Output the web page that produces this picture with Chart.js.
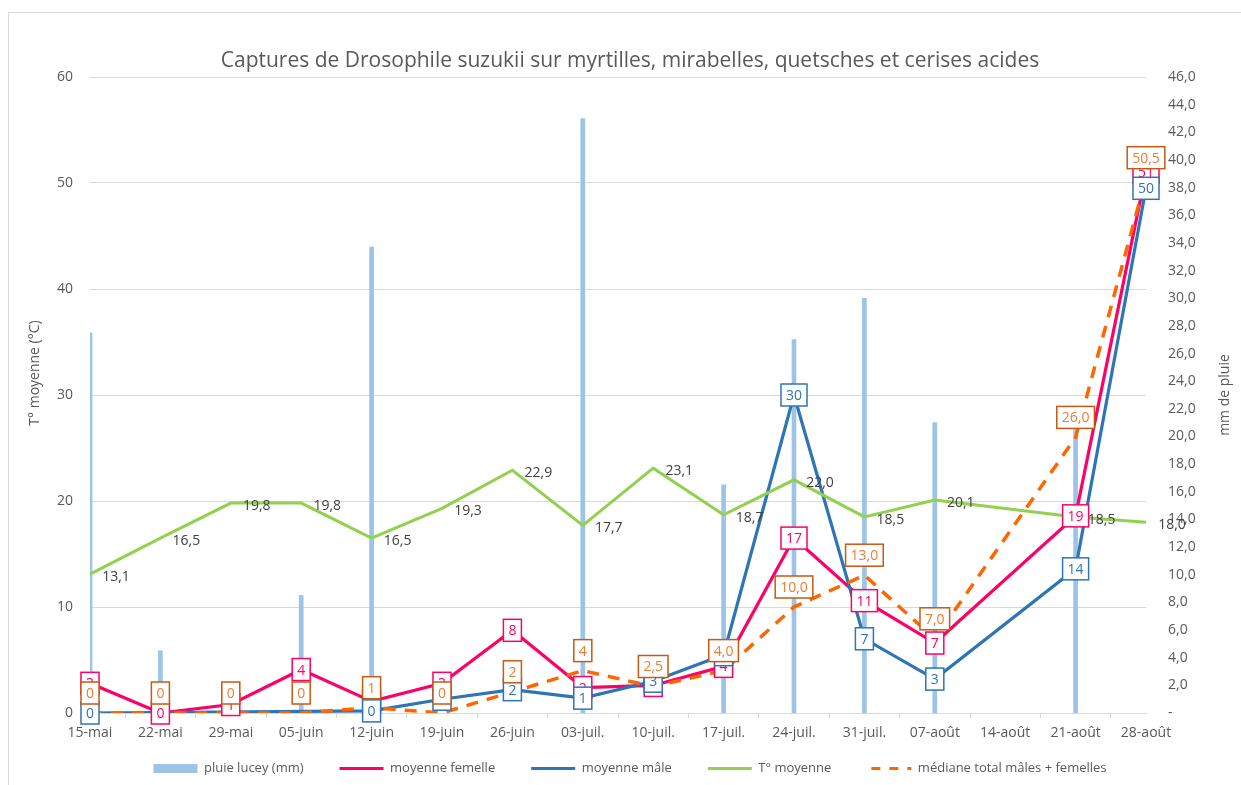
<!DOCTYPE html>
<html>
<head>
<meta charset="utf-8">
<title>Captures de Drosophile suzukii</title>
<script src="https://cdn.jsdelivr.net/npm/chart.js@4/dist/chart.umd.min.js"></script>
<style>
  html, body { margin: 0; padding: 0; background: #fff; }
</style>
</head>
<body>
<canvas id="chart" width="1241" height="785"></canvas>
<script>
// weekly sampling dates
const weeks = ['15-mai', '22-mai', '29-mai', '05-juin', '12-juin', '19-juin', '26-juin', '03-juil.',
  '10-juil.', '17-juil.', '24-juil.', '31-juil.', '07-août', '14-août', '21-août', '28-août'];

// rain (mm, right axis)
const rainMm = [27.5, 4.5, null, 8.5, 33.7, null, null, 43.0, null, 16.5, 27.0, 30.0, 21.0, null, 20.5, null];
// captures (left axis)
const femaleMean = [2.8, 0, 0.8, 4.1, 1.1, 2.8, 7.8, 2.4, 2.6, 4.4, 16.5, 10.6, 6.6, null, 18.6, 51];
const maleMean = [0, null, null, null, 0.2, 1.3, 2.2, 1.4, 3.0, 5.5, 30, 7.0, 3.2, null, 13.6, 49.5];
const medianTotal = [0, 0, 0, 0, 0.5, 0, 2, 4, 2.5, 4.0, 10.0, 13.0, 7.0, null, 26.0, 50.5];
// mean temperature (°C, left axis)
const tempMean = [13.1, 16.5, 19.8, 19.8, 16.5, 19.3, 22.9, 17.7, 23.1, 18.7, 22.0, 18.5, 20.1, null, 18.5, 18.0];

const tempTicks = [0, 10, 20, 30, 40, 50, 60];
const rainTicks = [0, 2, 4, 6, 8, 10, 12, 14, 16, 18, 20, 22, 24, 26, 28, 30, 32, 34, 36, 38, 40, 42, 44, 46];

const TEXT = '#595959';
Chart.defaults.font.family = '"Open Sans", sans-serif';

const comma = (v, d) => v.toFixed(d).replace('.', ',');
const fmtInt = v => String(Math.round(v));
const fmtMedian = (v, i) => i < 8 ? String(Math.round(v)) : comma(v, 1);

// white background + thin frame like the excel chart object
const frame = {
  id: 'frame',
  beforeDraw(chart) {
    const ctx = chart.ctx;
    ctx.save();
    ctx.fillStyle = '#fff';
    ctx.fillRect(0, 0, chart.width, chart.height);
    ctx.strokeStyle = '#d9d9d9';
    ctx.lineWidth = 1;
    ctx.strokeRect(8.5, 12.5, chart.width + 20, chart.height + 20);
    ctx.restore();
  }
};

// the x axis box is kept short so the legend can sit low; give its labels room to draw
const xLabelRoom = {
  id: 'xLabelRoom',
  afterLayout(chart) {
    const s = chart.scales.x;
    s.bottom = s.top + 40;
  }
};

// axis titles, both read bottom to top
const axisTitles = {
  id: 'axisTitles',
  afterDraw(chart) {
    const ctx = chart.ctx;
    const a = chart.chartArea;
    ctx.save();
    ctx.fillStyle = TEXT;
    ctx.font = '14px "Open Sans"';
    ctx.textAlign = 'center';
    ctx.textBaseline = 'middle';
    ctx.translate(35, 373);
    ctx.rotate(-Math.PI / 2);
    ctx.fillText('T° moyenne (°C)', 0, 0);
    ctx.restore();
    ctx.save();
    ctx.fillStyle = TEXT;
    ctx.font = '14px "Open Sans"';
    ctx.textAlign = 'center';
    ctx.textBaseline = 'middle';
    ctx.translate(1225, (a.top + a.bottom) / 2);
    ctx.rotate(-Math.PI / 2);
    ctx.fillText('mm de pluie', 0, 0);
    ctx.restore();
  }
};

// data labels (boxed for captures, plain for temperature)
const valueLabels = {
  id: 'valueLabels',
  afterDatasetsDraw(chart) {
    const ctx = chart.ctx;
    ctx.save();
    ctx.font = '14px "Open Sans"';
    ctx.textAlign = 'center';
    ctx.textBaseline = 'middle';
    const sets = chart.data.datasets
      .map((ds, i) => ({ds, meta: chart.getDatasetMeta(i)}))
      .filter(o => o.ds.valueLabel)
      .sort((a, b) => a.ds.valueLabel.z - b.ds.valueLabel.z);
    for (const {ds, meta} of sets) {
      const lab = ds.valueLabel;
      ds.data.forEach((v, i) => {
        if (v === null) return;
        const pt = meta.data[i];
        const text = lab.fmt(v, i);
        const x = pt.x + lab.dx;
        const y = pt.y + lab.dy;
        if (lab.box) {
          const w = ctx.measureText(text).width + 10;
          const h = 22;
          ctx.fillStyle = '#fff';
          ctx.fillRect(x - w / 2, y - h / 2, w, h);
          ctx.lineWidth = 1.5;
          ctx.strokeStyle = lab.box;
          ctx.strokeRect(x - w / 2, y - h / 2, w, h);
        }
        ctx.fillStyle = lab.color;
        ctx.fillText(text, x, y + 1);
      });
    }
    ctx.restore();
  }
};

// first dataset is drawn on top, so the bars come last
const datasets = [
  {
    type: 'line', label: 'médiane total mâles + femelles', data: medianTotal, yAxisID: 'y',
    borderColor: '#ff6600', backgroundColor: '#ff6600', borderWidth: 3.5, borderDash: [12, 9],
    pointRadius: 0, tension: 0, spanGaps: true,
    valueLabel: {z: 3, box: '#c55a11', color: '#ed7d31', dx: 0, dy: -20, fmt: fmtMedian}
  },
  {
    type: 'line', label: 'T° moyenne', data: tempMean, yAxisID: 'y',
    borderColor: '#92d050', backgroundColor: '#92d050', borderWidth: 3,
    pointRadius: 0, tension: 0, spanGaps: true,
    valueLabel: {z: 0, box: null, color: '#404040', dx: 26, dy: 2, fmt: v => comma(v, 1)}
  },
  {
    type: 'line', label: 'moyenne mâle', data: maleMean, yAxisID: 'y',
    borderColor: '#2e75b6', backgroundColor: '#2e75b6', borderWidth: 3.2,
    pointRadius: 0, tension: 0, spanGaps: true,
    // no line across the long gap at the start of the season
    segment: { borderColor: c => (c.p1DataIndex - c.p0DataIndex > 3 ? 'rgba(0,0,0,0)' : undefined) },
    valueLabel: {z: 2, box: '#2e75b6', color: '#2e75b6', dx: 0, dy: 0, fmt: fmtInt}
  },
  {
    type: 'line', label: 'moyenne femelle', data: femaleMean, yAxisID: 'y',
    borderColor: '#ff0066', backgroundColor: '#ff0066', borderWidth: 3.2,
    pointRadius: 0, tension: 0, spanGaps: true,
    valueLabel: {z: 1, box: '#ff0066', color: '#ff0066', dx: 0, dy: 0, fmt: fmtInt}
  },
  {
    type: 'bar', label: 'pluie lucey (mm)', data: rainMm, yAxisID: 'yRain',
    backgroundColor: '#9dc3e6', borderWidth: 0, barThickness: 4
  }
];

new Chart(document.getElementById('chart'), {
  data: { labels: weeks, datasets: datasets },
  options: {
    responsive: false,
    animation: false,
    layout: { padding: { left: 19, right: 0, top: 0, bottom: 0 } },
    plugins: {
      tooltip: { enabled: false },
      title: {
        display: true,
        text: 'Captures de Drosophile suzukii sur myrtilles, mirabelles, quetsches et cerises acides',
        color: TEXT,
        font: { size: 21, weight: 'normal' },
        padding: { top: 48, bottom: 3.8 }
      },
      legend: {
        position: 'bottom',
        labels: {
          color: TEXT,
          font: { size: 13 },
          usePointStyle: true,
          pointStyleWidth: 44,
          boxHeight: 9,
          padding: 36,
          generateLabels(chart) {
            return chart.data.datasets.map((ds, i) => ({
              text: ds.label,
              fillStyle: ds.backgroundColor,
              strokeStyle: ds.type === 'bar' ? ds.backgroundColor : ds.borderColor,
              lineWidth: ds.type === 'bar' ? 0 : 3,
              lineDash: ds.borderDash ? [9, 9] : [],
              lineDashOffset: ds.borderDash ? -4 : 0,
              pointStyle: ds.type === 'bar' ? 'rect' : 'line',
              fontColor: TEXT,
              hidden: false,
              datasetIndex: i
            })).reverse();
          }
        }
      }
    },
    scales: {
      x: {
        type: 'category',
        offset: false,
        grid: { drawOnChartArea: false, drawTicks: true, tickLength: 5, color: '#d9d9d9' },
        border: { display: true, color: '#d9d9d9' },
        ticks: { color: TEXT, font: { size: 14 }, padding: 7, maxRotation: 0, autoSkip: false },
        afterFit(s) { s.height = 13; }
      },
      y: {
        position: 'left',
        min: 0,
        max: 60,
        afterBuildTicks(s) { s.ticks = tempTicks.map(v => ({ value: v })); },
        grid: { color: '#d9d9d9', drawTicks: false },
        border: { display: false },
        ticks: { color: TEXT, font: { size: 14 }, padding: 17 },
        afterFit(s) { s.width = 71; }
      },
      yRain: {
        position: 'right',
        min: 0,
        max: 46,
        afterBuildTicks(s) { s.ticks = rainTicks.map(v => ({ value: v })); },
        grid: { display: false, drawTicks: false },
        border: { display: false },
        ticks: {
          color: TEXT,
          font: { size: 14 },
          padding: 22,
          callback: v => (v === 0 ? '-' : comma(v, 1))
        },
        afterFit(s) { s.width = 95; }
      }
    }
  },
  plugins: [frame, xLabelRoom, valueLabels, axisTitles]
});
</script>
</body>
</html>
